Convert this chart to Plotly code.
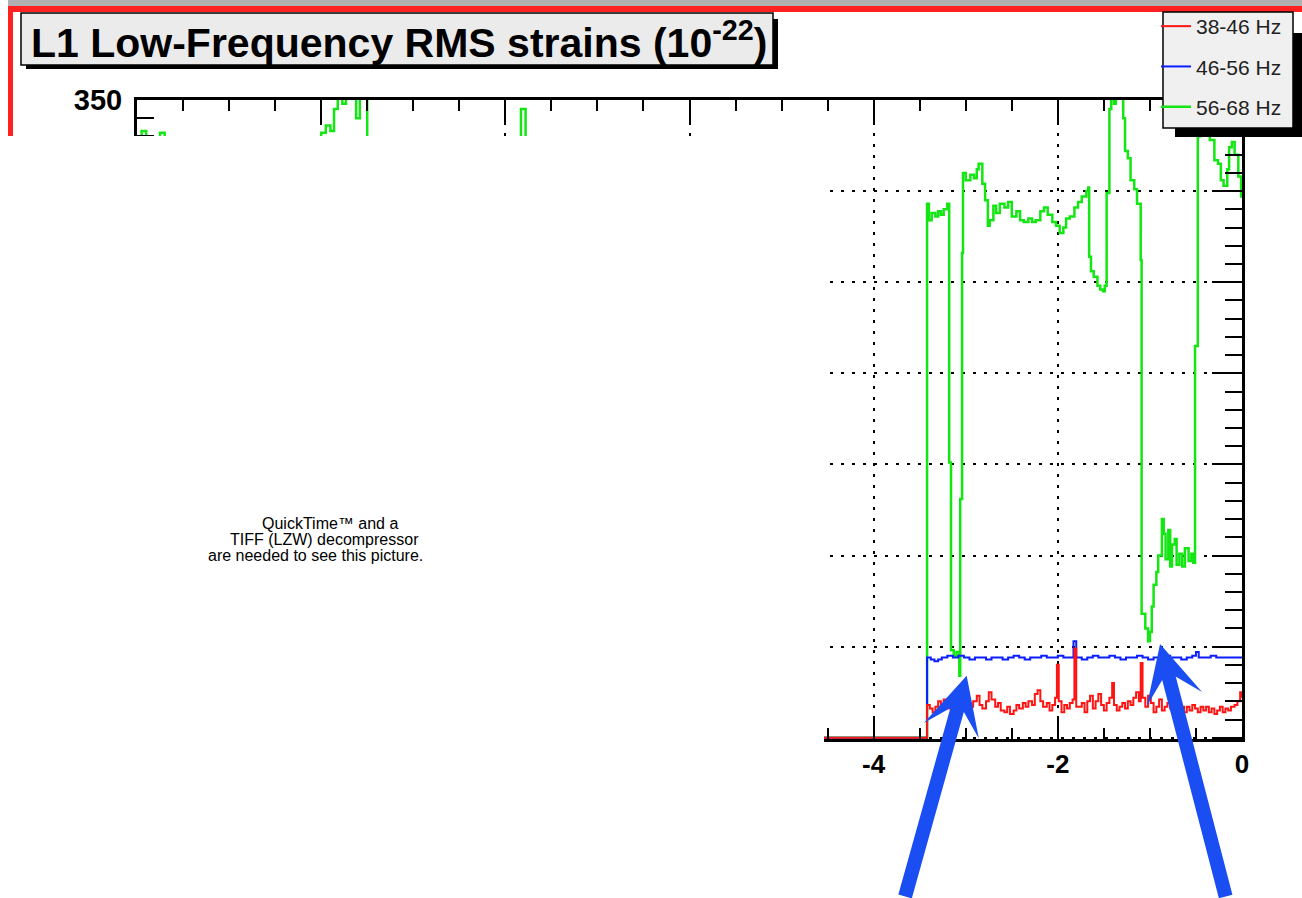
import plotly.graph_objects as go

# L1 band-limited RMS strain (units of 1e-22) against time
red_x = [-12.0, -11.0, -10.0, -9.0, -8.0, -7.0, -6.0, -5.2, -4.9,
         -3.42, -3.39, -3.36, -3.33, -3.30, -3.27, -3.24, -3.21, -3.18, -3.15,
         -3.12, -3.08, -3.05, -3.02, -2.98, -2.95, -2.92, -2.88, -2.85, -2.82,
         -2.78, -2.75, -2.72, -2.68, -2.65, -2.62, -2.58, -2.55, -2.52, -2.48,
         -2.45, -2.42, -2.38, -2.35, -2.32, -2.28, -2.25, -2.22, -2.19, -2.16,
         -2.12, -2.09, -2.06, -2.03, -2.01, -1.99, -1.96, -1.93, -1.90, -1.87,
         -1.84, -1.82, -1.80, -1.77, -1.74, -1.71, -1.68, -1.65, -1.62, -1.59,
         -1.56, -1.53, -1.50, -1.47, -1.44, -1.41, -1.39, -1.36, -1.33, -1.30,
         -1.27, -1.24, -1.21, -1.18, -1.15, -1.12, -1.10, -1.08, -1.05, -1.02,
         -0.99, -0.96, -0.93, -0.90, -0.87, -0.84, -0.81, -0.78, -0.75, -0.72,
         -0.69, -0.66, -0.63, -0.60, -0.57, -0.54, -0.51, -0.48, -0.45, -0.42,
         -0.39, -0.36, -0.33, -0.30, -0.27, -0.24, -0.21, -0.18, -0.15, -0.12,
         -0.08, -0.05, -0.02, 0.0]
red_y = [19, 17, 21, 18, 20, 17, 19, 18, 0,
         18, 16, 14, 17, 20, 18, 21, 19, 16, 19,
         17, 14, 17, 22, 19, 17, 20, 23, 18, 16,
         20, 25, 21, 17, 19, 15, 14, 17, 13, 15,
         18, 16, 19, 17, 20, 18, 24, 26, 20, 17,
         19, 15, 18, 22, 40, 20, 14, 18, 16, 19,
         21, 49, 17, 17, 19, 14, 20, 23, 16, 20,
         24, 18, 15, 19, 22, 30, 18, 15, 17, 19,
         16, 20, 18, 22, 25, 20, 41, 22, 17, 23,
         19, 14, 17, 21, 15, 17, 19, 16, 18, 15,
         19, 17, 14, 17, 15, 18, 16, 14, 17, 15,
         17, 14, 16, 13, 15, 17, 14, 16, 15, 17,
         18, 20, 25, 22]

blue_x = [-12.0, -11.0, -10.0, -9.0, -8.0, -7.0, -6.0, -5.2, -4.9,
          -3.42, -3.38, -3.34, -3.30, -3.26, -3.20, -3.14, -3.08, -3.02, -2.96,
          -2.90, -2.84, -2.78, -2.72, -2.66, -2.60, -2.54, -2.48, -2.42, -2.36,
          -2.30, -2.24, -2.18, -2.12, -2.06, -2.00, -1.94, -1.88, -1.83, -1.80,
          -1.74, -1.68, -1.62, -1.56, -1.50, -1.44, -1.38, -1.32, -1.26, -1.20,
          -1.14, -1.08, -1.02, -0.96, -0.90, -0.84, -0.78, -0.72, -0.66, -0.60,
          -0.54, -0.50, -0.47, -0.40, -0.34, -0.28, -0.22, -0.16, -0.10, -0.04,
          0.0]
blue_y = [45, 44, 45, 44, 45, 44, 45, 44, 0,
          44, 43, 42, 43, 44, 45, 44, 45, 44, 43,
          44, 44, 43, 44, 44, 43, 44, 45, 44, 43,
          44, 44, 45, 44, 44, 45, 44, 44, 53, 44,
          43, 44, 45, 44, 44, 45, 44, 43, 44, 44,
          45, 44, 43, 44, 44, 45, 44, 44, 43, 44,
          45, 47, 44, 44, 45, 44, 44, 44, 44, 44,
          44]

green_x = [-12.0, -11.95, -11.9, -11.75, -11.7, -11.4, -11.0, -10.5, -10.02,
           -10.0, -9.95, -9.9, -9.86, -9.82, -9.77, -9.73, -9.67, -9.62, -9.58,
           -9.53, -9.5, -9.0, -8.5, -7.83, -7.78, -7.0, -6.2, -5.4, -4.9,
           -3.42, -3.40, -3.37, -3.33, -3.30, -3.27, -3.24, -3.20, -3.18, -3.16,
           -3.13, -3.10, -3.07, -3.06, -3.04, -3.03, -3.00, -2.95, -2.91, -2.88,
           -2.86, -2.82, -2.79, -2.76, -2.74, -2.70, -2.67, -2.63, -2.58, -2.54,
           -2.50, -2.45, -2.41, -2.37, -2.32, -2.28, -2.24, -2.19, -2.15, -2.11,
           -2.06, -2.02, -1.98, -1.94, -1.91, -1.87, -1.82, -1.78, -1.74, -1.69,
           -1.67, -1.66, -1.64, -1.61, -1.57, -1.54, -1.51, -1.49, -1.47, -1.44,
           -1.42, -1.39, -1.37, -1.35, -1.31, -1.29, -1.27, -1.24, -1.21, -1.17,
           -1.14, -1.10, -1.09, -1.05, -1.02, -1.00, -0.98, -0.96, -0.93, -0.91,
           -0.87, -0.85, -0.83, -0.80, -0.78, -0.76, -0.73, -0.71, -0.68, -0.65,
           -0.62, -0.58, -0.55, -0.53, -0.51, -0.48, -0.46, -0.39, -0.35, -0.30,
           -0.26, -0.23, -0.20, -0.16, -0.14, -0.11, -0.08, -0.04, -0.01, 0.0]
green_y = [325, 333, 326, 332, 324, 318, 322, 315, 325,
           332, 336, 333, 345, 352, 348, 355, 352, 340, 355,
           352, 320, 312, 308, 345, 310, 305, 300, 296, 0,
           293, 284, 288, 286, 289, 287, 290, 293, 151, 48,
           45, 47, 34, 131, 266, 310, 306, 309, 307, 312,
           315, 304, 295, 281, 284, 292, 288, 293, 291, 294,
           286, 289, 284, 283, 285, 283, 284, 289, 291, 287,
           283, 281, 277, 280, 285, 286, 291, 294, 297, 300,
           302, 264, 256, 253, 248, 246, 245, 248, 299, 345,
           356, 348, 358, 352, 355, 340, 322, 318, 306, 301,
           293, 262, 68, 60, 53, 58, 72, 84, 91, 100,
           120, 112, 98, 114, 94, 106, 109, 95, 101, 94,
           104, 97, 101, 96, 215, 330, 360, 340, 328, 317,
           315, 306, 303, 312, 324, 327, 320, 308, 297, 297]

x_tick_vals = [-12, -10, -8, -6, -4, -2, 0]
x_tick_text = ["-12", "-10", "-8", "-6", "-4", "-2", "0"]
y_tick_vals = [0, 50, 100, 150, 200, 250, 300, 350]
y_tick_text = ["0", "50", "100", "150", "200", "250", "300", "350"]

# name, x, y, colour, line width, legend position
series = [
    ("56-68 Hz", green_x, green_y, "#14e614", 2.5, 3),
    ("46-56 Hz", blue_x, blue_y, "#0a1eff", 2, 2),
    ("38-46 Hz", red_x, red_y, "#ff1414", 2, 1),
]

quicktime_lines = ["QuickTime\u2122 and a", "TIFF (LZW) decompressor",
                   "are needed to see this picture."]

# pixel frame of the plot area
W, H = 1302, 898
L, R, T, B = 137, 1242, 100, 739


def pxx(x):
    return (x - L) / (R - L)


def pxy(y):
    return (B - y) / (B - T)


def rect(x0, y0, x1, y1, fill, lw=0):
    return dict(type="rect", xref="paper", yref="paper",
                x0=pxx(x0), x1=pxx(x1), y0=pxy(y1), y1=pxy(y0),
                fillcolor=fill, line=dict(width=lw, color="black"),
                layer="above")


fig = go.Figure()

for name, xs, ys, color, lw, rank in series:
    fig.add_trace(
        go.Scatter(
            x=xs,
            y=ys,
            mode="lines",
            name=name,
            legendgroup=name,
            legendrank=rank,
            line=dict(color=color, width=lw, shape="hv"),
        )
    )

axis_common = dict(
    ticks="inside",
    tickwidth=2,
    tickcolor="black",
    showline=True,
    linewidth=3,
    linecolor="black",
    mirror="allticks",
    showgrid=True,
    gridcolor="black",
    gridwidth=2,
    griddash="3px,8px",
    zeroline=False,
)

fig.update_xaxes(
    range=[-12, 0],
    tickvals=x_tick_vals,
    ticktext=x_tick_text,
    ticklen=22,
    tickfont=dict(family="Liberation Sans", size=26, color="black", weight="bold"),
    minor=dict(dtick=0.5, tick0=0, ticklen=11, tickwidth=2, tickcolor="black", ticks="inside"),
    **axis_common,
)
fig.update_yaxes(
    range=[-0.7, 350],
    tickvals=y_tick_vals,
    ticktext=y_tick_text,
    ticklen=30,
    ticklabelstandoff=6,
    tickfont=dict(family="Liberation Sans", size=29, color="black", weight="bold"),
    minor=dict(dtick=10, tick0=0, ticklen=17, tickwidth=2, tickcolor="black", ticks="inside"),
    **axis_common,
)

shapes = [
    # QuickTime placeholder covering the left part of the figure
    rect(-20, 136, 824, 920, "white"),
    # canvas frame
    rect(8, 0, 1320, 6, "#b0b0b0"),
    rect(8, 6, 1320, 12, "#ff2020"),
    rect(8, 6, 13, 136, "#ff2020"),
    # title box with shadow
    rect(26, 19, 778, 69, "black"),
    rect(21, 13, 773, 65, "#ebebeb", 1.5),
    # legend box with shadow
    rect(1175, 33, 1302, 137, "black"),
    rect(1163, 12, 1293, 128, "#f0f0f0", 1.5),
]

annotations = [
    dict(xref="paper", yref="paper", x=pxx(29), y=pxy(40), xanchor="left", yanchor="middle",
         text="L1 Low-Frequency RMS strains (10<sup>-22</sup>)", showarrow=False,
         font=dict(family="Liberation Sans", size=41, color="black", weight="bold")),
]
qt_centres = [330, 324, 315]
for i, line in enumerate(quicktime_lines):
    annotations.append(
        dict(xref="paper", yref="paper", x=pxx(qt_centres[i]), y=pxy(523 + 16 * i),
             xanchor="center", yanchor="middle", text=line, showarrow=False,
             font=dict(family="Liberation Sans", size=16, color="black"))
    )

# arrows pointing at the two dips of the 56-68 Hz band
arrow_x = [-2.99, -0.89]
arrow_y = [34, 51.5]
arrow_tail = [(-62, 228), (66, 260)]
for xa, ya, (ax, ay) in zip(arrow_x, arrow_y, arrow_tail):
    annotations.append(
        dict(x=xa, y=ya, xref="x", yref="y", ax=ax, ay=ay, text="", showarrow=True,
             arrowhead=3, arrowwidth=14, arrowsize=0.68, arrowcolor="#1a4ef2", standoff=0)
    )

fig.update_layout(
    width=W,
    height=H,
    margin=dict(l=L, r=W - R, t=T, b=H - B, autoexpand=False),
    plot_bgcolor="white",
    paper_bgcolor="white",
    shapes=shapes,
    annotations=annotations,
    showlegend=True,
    legend=dict(
        x=pxx(1156),
        y=pxy(6),
        xanchor="left",
        yanchor="top",
        traceorder="grouped",
        tracegroupgap=10,
        bgcolor="rgba(0,0,0,0)",
        borderwidth=0,
        itemwidth=30,
        font=dict(family="Liberation Sans", size=21, color="#222222"),
    ),
)

fig.write_html(
    "out.html",
    config={"displayModeBar": False},
    post_script="document.body.style.margin = '0';",
)
